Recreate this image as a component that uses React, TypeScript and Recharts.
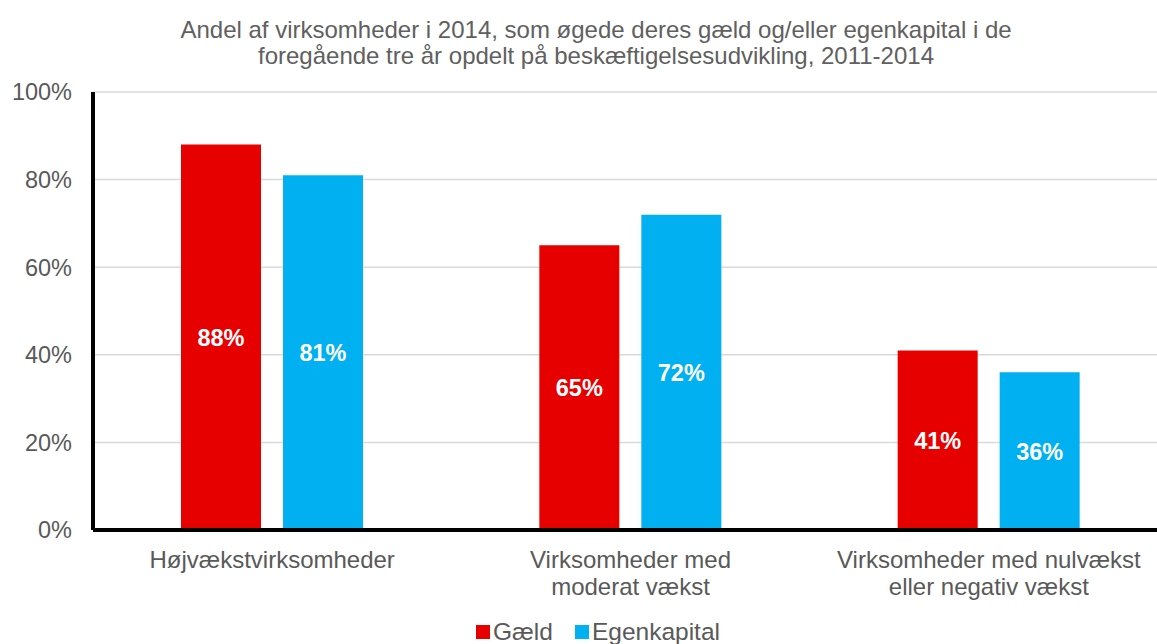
import { BarChart, Bar, XAxis, YAxis, CartesianGrid, LabelList } from 'recharts'

const categories = ['Højvækstvirksomheder', 'Virksomheder med\nmoderat vækst', 'Virksomheder med nulvækst\neller negativ vækst']
const gaeld = [0.88, 0.65, 0.41]
const egenkapital = [0.81, 0.72, 0.36]
const yTicks = [0, 0.2, 0.4, 0.6, 0.8, 1]
const titleLines = [
  'Andel af virksomheder i 2014, som øgede deres gæld og/eller egenkapital i de',
  'foregående tre år opdelt på beskæftigelsesudvikling, 2011-2014',
]
const seriesNames = ['Gæld', 'Egenkapital']
const seriesColors = ['#e60000', '#00b0f0']

const data = categories.map((name, i) => ({ name, gaeld: gaeld[i], egenkapital: egenkapital[i] }))

const font = '"Liberation Sans", Arial, sans-serif'
const gray = '#595959'

const pct = (v: number) => `${Math.round(v * 100)}%`

function XTick(props: any) {
  const { x, y, payload } = props
  const lines = String(payload.value).split('\n')
  return (
    <text x={x} y={y} textAnchor="middle" fill={gray} fontSize={24} fontFamily={font}>
      {lines.map((l, i) => (
        <tspan key={i} x={x} dy={i === 0 ? 30 : 27}>{l}</tspan>
      ))}
    </text>
  )
}

export default function App() {
  return (
    <div style={{ position: 'fixed', left: 0, top: 0, width: 1157, height: 644, overflow: 'hidden', background: '#fff' }}>
      <div style={{ position: 'absolute', top: 17, left: 0, width: 1192, textAlign: 'center', fontFamily: font, fontSize: 24, color: '#606060', lineHeight: '26px' }}>
        {titleLines.map((l) => <div key={l}>{l}</div>)}
      </div>
      <BarChart
        width={1200}
        height={644}
        data={data}
        margin={{ top: 92, right: 32, left: 0, bottom: 84 }}
        barSize={80}
        barGap={22}
      >
        <CartesianGrid vertical={false} stroke="#d9d9d9" strokeWidth={1.5} />
        <XAxis
          dataKey="name"
          axisLine={{ stroke: '#000', strokeWidth: 4 }}
          tickLine={false}
          tick={<XTick />}
          interval={0}
        />
        <YAxis
          width={93}
          domain={[0, 1]}
          ticks={yTicks}
          tickFormatter={pct}
          axisLine={{ stroke: '#000', strokeWidth: 4 }}
          tickLine={false}
          tickSize={0}
          tickMargin={21}
          tick={{ fill: gray, fontSize: 23.5, fontFamily: font }}
        />
        <Bar dataKey="gaeld" fill={seriesColors[0]} isAnimationActive={false}>
          <LabelList dataKey="gaeld" position="center" formatter={pct} fill="#fff" fontSize={23.5} fontWeight="bold" fontFamily={font} />
        </Bar>
        <Bar dataKey="egenkapital" fill={seriesColors[1]} isAnimationActive={false}>
          <LabelList dataKey="egenkapital" position="center" formatter={pct} fill="#fff" fontSize={23.5} fontWeight="bold" fontFamily={font} />
        </Bar>
      </BarChart>
      <div style={{ position: 'absolute', top: 617, left: 0, width: 1196, display: 'flex', justifyContent: 'center', gap: 22, fontFamily: font, fontSize: 24.5, color: gray, lineHeight: '30px' }}>
        {seriesNames.map((n, i) => (
          <div key={n} style={{ display: 'flex', alignItems: 'center' }}>
            <span style={{ width: 14, height: 14, background: seriesColors[i], display: 'inline-block', marginRight: 3 }} />
            {n}
          </div>
        ))}
      </div>
    </div>
  )
}
